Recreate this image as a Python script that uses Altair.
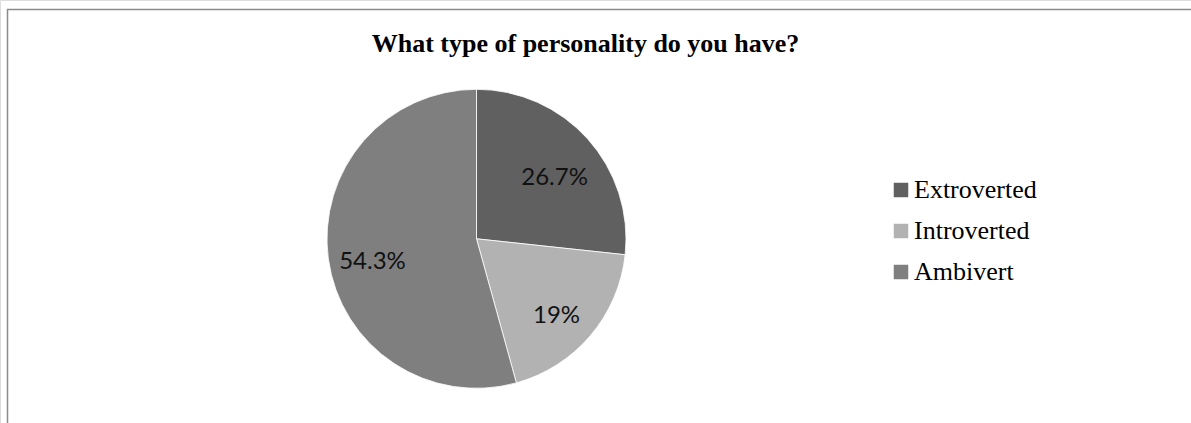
import altair as alt
import pandas as pd

categories = ["Extroverted", "Introverted", "Ambivert"]
values = [26.7, 19.0, 54.3]
labels = ["26.7%", "19%", "54.3%"]
colors = ["#606060", "#b2b2b2", "#7f7f7f"]
order_idx = [0, 1, 2]

df = pd.DataFrame({"category": categories, "value": values, "label": labels, "idx": order_idx})

CX, CY, R = 476.5, 238.8, 149.5

base = alt.Chart(df).encode(
    theta=alt.Theta("value:Q", stack=True),
    order=alt.Order("idx:Q"),
)

arc = base.mark_arc(radius=R, stroke="white", strokeWidth=0.8).encode(
    x=alt.value(CX),
    y=alt.value(CY),
    color=alt.Color(
        "category:N",
        scale=alt.Scale(domain=categories, range=colors),
        sort=categories,
        legend=alt.Legend(
            title=None,
            orient="none",
            legendX=888,
            legendY=177,
            symbolType="square",
            symbolSize=210,
            symbolStrokeWidth=0,
            symbolOpacity=1,
            labelFont="Liberation Serif",
            labelFontSize=26,
            labelColor="black",
            labelOffset=0,
            rowPadding=15,
            padding=0,
        ),
    ),
)

text = base.mark_text(radius=105, dy=9, font="Lato", fontSize=24, color="#111111").encode(
    x=alt.value(CX),
    y=alt.value(CY),
    text="label:N",
)

frame = alt.Chart(pd.DataFrame({"a": [0]})).mark_rect(
    fill=None, stroke="#8c8c8c", strokeWidth=1.5
).encode(
    x=alt.value(7.5), y=alt.value(9.5), x2=alt.value(1300), y2=alt.value(600)
)

chart = alt.layer(frame, arc, text).properties(
    width=1191,
    height=423,
    padding=0,
    autosize=alt.AutoSizeParams(type="none"),
    title=alt.TitleParams(
        "What type of personality do you have?",
        font="Liberation Serif",
        fontSize=26,
        fontWeight="bold",
        color="black",
        anchor="middle",
        dx=-10,
        dy=61,
    ),
).configure_view(stroke=None).configure(background="white")

chart.save("out.html", embed_options={"renderer": "svg", "actions": False})
